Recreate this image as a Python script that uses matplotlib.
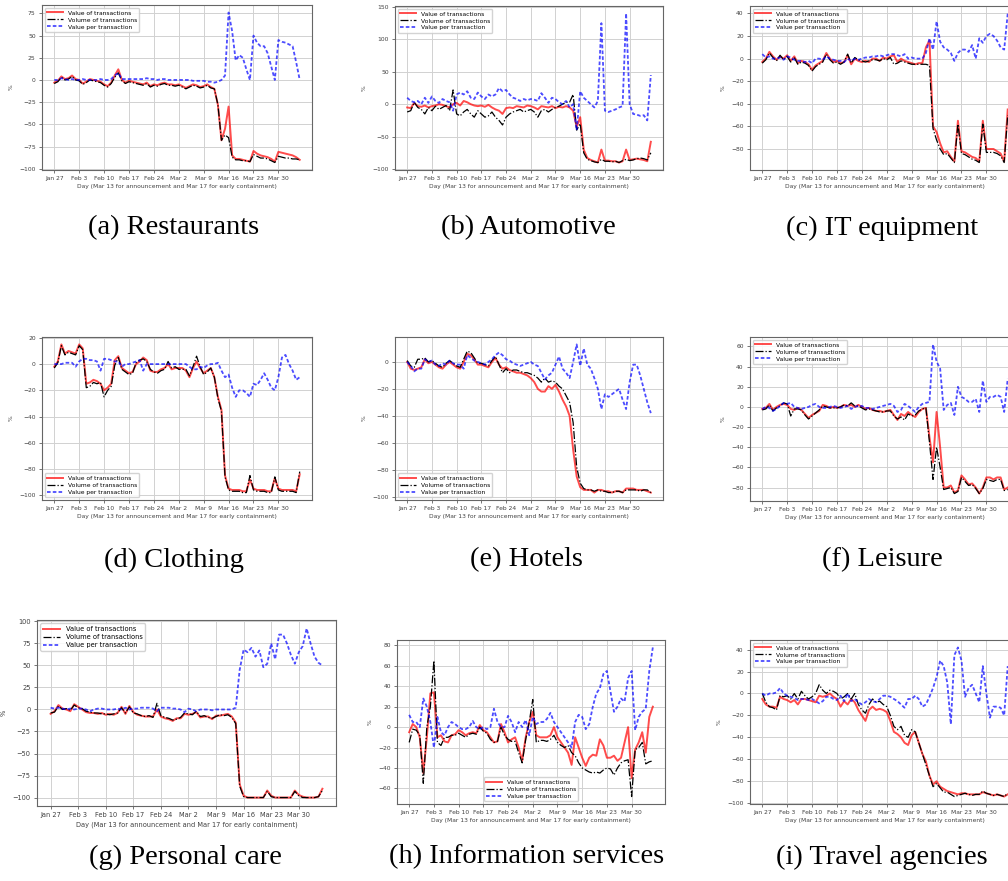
import matplotlib.pyplot as plt
import numpy as np

# daily values, Jan 27 .. Apr 5 (70 days)
tick_labels = ["Jan 27", "Feb 3", "Feb 10", "Feb 17", "Feb 24",
               "Mar 2", "Mar 9", "Mar 16", "Mar 23", "Mar 30"]
series_names = ["Value of transactions", "Volume of transactions", "Value per transaction"]

restaurants_value = [-3, -1, 4, 1, 2, 5, 1, 0, -4, -2,
                     1, 0, -1, -2, -5, -7, -3, 5, 12, 0,
                     -3, -1, -2, -3, -4, -5, -3, -7, -5, -6,
                     -4, -3, -5, -5, -6, -5, -7, -9, -7, -5,
                     -6, -8, -7, -5, -8, -10, -28, -68, -55, -30,
                     -85, -89, -89, -90, -91, -92, -80, -83, -85, -86,
                     -87, -89, -92, -81, -82, -83, -84, -85, -87, -90]
restaurants_volume = [-4, -2, 3, 0, 1, 4, 0, -1, -5, -3,
                      0, -1, -2, -3, -6, -8, -4, 3, 8, -1,
                      -4, -2, -3, -4, -5, -6, -4, -8, -6, -7,
                      -5, -4, -6, -6, -7, -6, -8, -10, -8, -6,
                      -7, -9, -8, -6, -9, -10, -28, -68, -62, -65,
                      -87, -90, -90, -91, -91, -92, -84, -86, -88, -88,
                      -89, -91, -93, -86, -87, -88, -88, -89, -89, -90]
restaurants_vpt = [0, 0, 2, 1, 0, 1, 0, 0, 1, 0,
                   0, 0, 0, 1, 0, 0, 1, 5, 8, 1,
                   1, 1, 1, 1, 1, 1, 2, 1, 1, 0,
                   1, 1, 0, 0, 0, 0, 0, 0, 0, -1,
                   -1, -1, -1, -2, -2, -3, -2, 0, 5, 76,
                   55, 22, 28, 25, 12, 0, 50, 42, 38, 38,
                   30, 15, 0, 45, 43, 42, 40, 38, 20, 0]

automotive_value = [-5, -6, 2, -3, -4, -2, -5, -3, -2, 0,
                    -1, -3, -5, 0, 2, -2, 5, 3, 0, -2,
                    -3, -2, -4, -1, -5, -8, -10, -15, -6, -5,
                    -6, -3, -4, -5, -2, -3, -5, -8, -3, -4,
                    -5, -3, -6, -4, -5, -3, -5, -10, -35, -20,
                    -70, -83, -86, -88, -90, -70, -87, -87, -88, -88,
                    -90, -88, -70, -86, -85, -84, -85, -86, -88, -58]
automotive_volume = [-12, -10, 3, -5, -8, -15, -5, -10, -3, -8,
                     -5, -2, -10, 22, -15, -18, -12, -8, -15, -20,
                     -10, -15, -20, -18, -12, -20, -25, -32, -20, -15,
                     -12, -10, -8, -12, -10, -8, -12, -20, -10, -8,
                     -12, -8, -5, -3, 0, 3, 3, 15, -40, -30,
                     -75, -85, -87, -89, -90, -85, -88, -88, -89, -88,
                     -90, -87, -85, -87, -86, -84, -83, -84, -86, -75]
automotive_vpt = [10, 5, 3, 5, 0, 10, 2, 12, 5, 2,
                  8, 5, 3, -10, 15, 18, 15, 20, 10, 8,
                  18, 12, 8, 15, 12, 15, 25, 20, 22, 15,
                  10, 8, 5, 8, 6, 8, 7, 5, 17, 10,
                  2, 10, 8, 3, 0, 5, -5, 0, -40, 20,
                  10, 5, 0, -5, 5, 125, -10, -12, -10, -8,
                  -5, -3, 140, 0, -15, -16, -18, -17, -25, 45]

it_value = [-3, 0, 6, 2, -1, 2, 0, 3, -2, 2,
            -4, -2, -3, -5, -10, -6, -4, -2, 5, 0,
            -3, -2, -4, -3, 3, -5, 0, -2, -3, -2,
            -3, 0, 0, -2, 1, 0, 2, 3, -3, 0,
            -2, -3, -4, -5, -4, -4, 10, 16, -60, -65,
            -75, -83, -82, -87, -91, -55, -82, -83, -85, -87,
            -88, -91, -55, -80, -80, -80, -82, -84, -91, -45]
it_volume = [-4, -1, 5, 1, -2, 3, -1, 2, -3, 1,
             -5, -3, -4, -6, -11, -7, -5, -3, 4, -1,
             -4, -3, -5, -3, 4, -4, 1, -1, -2, -3,
             -2, -1, -1, -2, 0, -1, 1, -5, -4, -2,
             -3, -4, -5, -5, -5, -5, -5, -6, -62, -72,
             -80, -85, -84, -88, -92, -58, -84, -85, -87, -89,
             -90, -92, -58, -83, -83, -83, -84, -86, -92, -50]
it_vpt = [4, 1, 2, 0, 0, 1, -1, 2, 1, -1,
          -2, -2, -3, -2, -4, 0, 0, -1, 2, 0,
          -1, -2, -2, -3, 0, -2, 0, -1, 0, 1,
          1, 2, 2, 3, 2, 3, 4, 4, 3, 2,
          4, 0, 1, 0, 0, 0, 5, 18, 8, 33,
          15, 10, 8, 5, -2, 5, 8, 8, 6, 12,
          0, 18, 14, 20, 22, 20, 16, 10, 8, 40]

clothing_value = [-2, 2, 15, 8, 10, 9, 8, 15, 12, -15,
                  -14, -12, -13, -15, -20, -18, -15, 3, 6, -3,
                  -5, -7, -6, 0, 2, 5, 3, -5, -6, -6,
                  -4, -3, 0, -4, -3, -3, -3, -5, -10, -3,
                  2, -3, -7, -5, -3, -10, -25, -35, -85, -95,
                  -96, -96, -96, -97, -97, -88, -95, -96, -96, -96,
                  -97, -97, -87, -95, -96, -96, -96, -96, -97, -84]
clothing_volume = [-3, 1, 14, 7, 9, 8, 7, 14, 11, -18,
                   -17, -14, -15, -14, -25, -20, -17, -1, 5, -4,
                   -6, -8, -7, 1, 3, 4, 2, -4, -6, -7,
                   -5, -4, 2, -3, -2, -4, -4, -4, -9, -2,
                   6, -2, -8, -6, -3, -10, -26, -36, -86, -96,
                   -97, -97, -97, -98, -98, -85, -96, -97, -97, -97,
                   -98, -98, -86, -96, -97, -97, -97, -97, -98, -82]
clothing_vpt = [0, 0, 0, 1, 1, 1, -2, 2, 4, 4,
                3, 3, 2, -5, 4, 4, 3, 2, 2, -2,
                0, 0, 1, 2, 3, -5, 0, 0, 0, 0,
                0, 0, 0, 0, 0, 0, 0, 0, -2, -4,
                -4, -2, -3, -1, 0, 0, 1, -5, -10, -8,
                -18, -25, -20, -20, -22, -25, -15, -16, -12, -7,
                -12, -18, -20, -10, 5, 7, 0, -5, -12, -10]

hotels_value = [0, -5, -6, -5, -4, 2, -1, 0, -2, -4,
                -5, -2, 0, -2, -4, -5, 0, 6, 5, 2,
                -2, -2, -3, -4, 0, 3, -2, -5, -4, -6,
                -7, -8, -8, -9, -10, -12, -15, -20, -22, -22,
                -18, -20, -17, -22, -28, -33, -40, -65, -85, -93,
                -95, -95, -95, -97, -95, -95, -96, -96, -97, -96,
                -96, -97, -94, -94, -94, -95, -95, -95, -96, -97]
hotels_volume = [1, -3, -4, 2, 2, 3, 0, 1, -1, -3,
                 -4, -1, 1, -1, -3, -4, 2, 8, 7, 3,
                 -1, -1, -2, -3, 1, 4, -2, -8, -5, -8,
                 -6, -6, -7, -8, -8, -9, -10, -12, -15, -12,
                 -15, -14, -15, -18, -20, -25, -30, -45, -78, -90,
                 -94, -95, -95, -96, -95, -96, -96, -97, -97, -96,
                 -96, -97, -95, -95, -95, -95, -96, -95, -95, -97]
hotels_vpt = [0, -3, -7, -5, -5, 2, 0, 1, -2, -3,
              -1, -2, 1, -1, -2, -2, -5, 5, 3, 1,
              0, -1, -2, 0, 2, 5, 7, 5, 2, 1,
              -1, -2, -3, -2, -1, 0, -2, -3, -8, -13,
              -10, -8, -2, 4, -5, -8, -12, 0, 13, -3,
              10, -2, -5, -12, -20, -35, -24, -26, -24, -22,
              -20, -28, -35, -15, -2, -2, -10, -20, -30, -38]

leisure_value = [-2, -1, 3, -3, 0, 2, 3, 2, -2, -3,
                 -1, -3, -7, -11, -8, -6, -4, 2, 1, -1,
                 0, -1, 0, 2, 1, 2, 0, 2, 0, -2,
                 -1, -3, -4, -4, -5, -4, -3, -8, -13, -7,
                 -9, -5, -8, -10, -5, -2, -1, -30, -55, -5,
                 -40, -80, -80, -78, -85, -83, -68, -72, -77, -76,
                 -80, -86, -80, -70, -70, -72, -70, -70, -82, -80]
leisure_volume = [-3, -2, 2, -4, -1, 1, 4, 3, -9, -2,
                  -2, -3, -8, -12, -9, -6, -3, 1, 0, -1,
                  -1, -1, 0, 2, 1, 4, 1, 1, -1, -3,
                  -2, -3, -4, -5, -5, -4, -4, -9, -12, -10,
                  -13, -7, -9, -8, -4, -2, -1, -35, -72, -40,
                  -60, -82, -81, -80, -86, -84, -70, -74, -78, -77,
                  -81, -86, -81, -72, -73, -74, -72, -72, -83, -82]
leisure_vpt = [-2, 0, -1, -4, -2, 1, 4, 3, 4, 0,
               -1, -2, -1, 0, 2, 3, 0, -1, -1, 0,
               1, 0, -1, 0, 1, -2, 0, 1, 1, -1,
               -1, -2, -1, 0, 1, 2, 3, 1, -5, -3,
               3, 1, -2, -5, 0, 3, 4, 5, 62, 45,
               38, -3, 2, 4, -8, 20, 10, 8, 5, 5,
               8, -5, 26, 5, 10, 10, 12, 10, -5, 28]

personal_value = [-5, -2, 5, 1, 0, -2, 6, 3, 0, -3,
                  -4, -4, -5, -4, -6, -5, -6, -4, 3, -5,
                  4, -3, -6, -7, -8, -8, -8, 0, -8, -10,
                  -11, -13, -10, -10, -5, -6, -5, -3, -9, -8,
                  -8, -11, -7, -7, -6, -5, -8, -15, -85, -98,
                  -100, -100, -100, -100, -100, -92, -98, -100, -100, -100,
                  -100, -100, -92, -97, -99, -100, -100, -100, -99, -90]
personal_volume = [-4, -3, 4, 0, 1, -1, 5, 2, 1, -2,
                   -3, -4, -4, -5, -5, -6, -5, -4, 2, -4,
                   3, -4, -5, -7, -8, -7, -9, 7, -7, -9,
                   -10, -12, -11, -9, -4, -5, -6, -2, -8, -7,
                   -9, -10, -8, -6, -7, -6, -9, -16, -87, -99,
                   -100, -100, -100, -100, -100, -93, -99, -100, -100, -100,
                   -100, -100, -93, -98, -100, -100, -100, -100, -99, -92]
personal_vpt = [2, 1, 2, 1, 0, 1, 0, 1, 1, 0,
                -2, 0, 1, 1, 0, 0, 0, 1, 0, 2,
                0, 1, 1, 2, 2, 2, 1, -2, 2, 2,
                2, 1, 1, 0, -3, 1, 0, -2, 0, 0,
                0, -1, 0, 0, 0, 0, 0, 2, 45, 68,
                65, 70, 60, 67, 48, 52, 75, 57, 85, 85,
                75, 62, 52, 65, 72, 92, 75, 60, 53, 50]

info_value = [-5, 3, 0, -10, -45, -10, 33, 34, -10, -8,
              -14, -15, -8, -7, -3, -5, -8, -6, -5, -6,
              2, -3, -5, -10, -15, -14, 3, -5, -15, -12,
              -10, -20, -33, -10, 5, 15, -8, -10, -10, -10,
              -8, 0, -10, -15, -20, -25, -37, -10, -20, -30,
              -38, -30, -27, -28, -12, -18, -30, -30, -28, -33,
              -30, -15, 0, -50, -22, -15, -5, -25, 10, 20]
info_volume = [-15, -2, -3, -8, -55, 0, 20, 65, -15, -18,
               -10, -10, -8, -8, -6, -8, -10, -7, -6, -7,
               0, -4, -6, -12, -15, -14, 0, -8, -12, -14,
               -14, -25, -35, -12, 5, 27, -15, -13, -13, -14,
               -12, -8, -15, -18, -20, -18, -25, -28, -35, -40,
               -42, -44, -45, -44, -45, -42, -40, -41, -47, -40,
               -35, -33, -32, -68, -22, -20, -15, -36, -34, -33]
info_vpt = [12, 5, 5, 0, 28, 20, 5, -20, 10, -5,
            -8, 0, 5, 3, 0, -2, -2, 0, 6, 0,
            -2, 0, -2, 0, 18, 5, 0, 0, 11, 5,
            -5, 5, 0, 7, -8, 10, 3, 5, 5, 8,
            14, 5, 0, -5, -10, -15, -20, 5, 12, 10,
            -2, 3, 20, 33, 38, 52, 55, 35, 15, 20,
            28, 25, 48, 55, -3, 10, 15, 18, 55, 78]

travel_value = [-5, -10, -12, -12, -13, -3, -5, -6, -8, -6,
                -10, -5, -5, -6, -7, -8, -2, -3, -2, 0,
                -3, -5, -12, -7, -10, -5, -8, -15, -20, -25,
                -15, -12, -15, -14, -15, -17, -25, -35, -37, -40,
                -45, -47, -38, -35, -45, -55, -62, -75, -83, -80,
                -85, -87, -89, -90, -91, -92, -91, -91, -92, -92,
                -92, -92, -90, -91, -92, -93, -92, -93, -94, -92]
travel_volume = [0, -8, -12, -13, -15, -2, -3, -2, -5, 0,
                 -5, 2, -2, -5, -3, 0, 8, 3, 0, 3,
                 2, 0, -5, -3, 0, -5, 0, -10, -15, -18,
                 -10, -5, -8, -7, -10, -12, -20, -30, -33, -30,
                 -38, -40, -33, -35, -45, -55, -65, -75, -85, -82,
                 -86, -90, -90, -92, -94, -93, -92, -91, -92, -93,
                 -92, -92, -89, -91, -92, -93, -92, -93, -94, -91]
travel_vpt = [0, -2, 0, 0, 1, 5, 0, -2, -3, -4,
              -6, -5, -5, -6, -5, -7, -9, -7, -3, -3,
              -5, -6, -2, -7, 0, -7, -5, -8, -10, -8,
              -5, -7, -8, -5, -2, -2, -3, -5, -7, -10,
              -13, -5, -5, -2, -5, -12, -10, -3, 5, 15,
              30, 25, 10, -28, 35, 42, 30, -3, 5, 8,
              0, -8, 25, 0, -22, -12, -12, -13, -20, 25]

panels = [
    ("(a) Restaurants", restaurants_value, restaurants_volume, restaurants_vpt, "upper left"),
    ("(b) Automotive", automotive_value, automotive_volume, automotive_vpt, "upper left"),
    ("(c) IT equipment", it_value, it_volume, it_vpt, "upper left"),
    ("(d) Clothing", clothing_value, clothing_volume, clothing_vpt, "lower left"),
    ("(e) Hotels", hotels_value, hotels_volume, hotels_vpt, "lower left"),
    ("(f) Leisure", leisure_value, leisure_volume, leisure_vpt, "upper left"),
    ("(g) Personal care", personal_value, personal_volume, personal_vpt, "upper left"),
    ("(h) Information services", info_value, info_volume, info_vpt, "lower center"),
    ("(i) Travel agencies", travel_value, travel_volume, travel_vpt, "upper left"),
]

# axes boxes in pixels: left, top, right, bottom
boxes = [(42, 5, 312, 170), (395, 6, 663, 170), (750, 6, 1020, 170),
         (42, 337, 312, 500), (395, 337, 663, 500), (750, 337, 1020, 501),
         (37, 620, 336, 806), (397, 640, 665, 804), (750, 640, 1020, 804)]
caption_pos = [(174, 228), (528, 228), (882, 228),
               (174, 560), (526, 560), (882, 560),
               (185, 857), (527, 857), (882, 857)]

W, H = 1008, 881
fig = plt.figure(figsize=(W / 100, H / 100), dpi=100)
x = np.arange(70)

for i, (name, val, vol, vpt, loc) in enumerate(panels):
    l, t, r, b = boxes[i]
    ax = fig.add_axes([l / W, 1 - b / H, (r - l) / W, (b - t) / H])
    fs = 4.8 if i == 6 else 4.3
    ax.plot(x, val, color="red", lw=1.4, alpha=0.7, label=series_names[0])
    ax.plot(x, vol, color="k", ls="-.", lw=0.9, label=series_names[1])
    ax.plot(x, vpt, color="blue", ls=(0, (2, 1.2)), lw=1.3, alpha=0.7, label=series_names[2])
    ax.set_xticks(np.arange(0, 70, 7))
    ax.set_xticklabels(tick_labels)
    ax.grid(True, color="0.82", lw=0.7)
    ax.set_axisbelow(True)
    ax.tick_params(labelsize=fs, length=2.5, width=0.5, pad=2, colors="0.25")
    ax.set_ylabel("%", fontsize=fs, color="0.25", labelpad=4)
    ax.set_xlabel("Day (Mar 13 for announcement and Mar 17 for early containment)",
                  fontsize=fs, color="0.25", labelpad=2)
    for s in ax.spines.values():
        s.set_color("0.4")
        s.set_linewidth(0.8)
    ax.legend(loc=loc, fontsize=fs, handlelength=2.6, borderpad=0.4,
              labelspacing=0.3, framealpha=0.85, edgecolor="0.8", fancybox=True)
    cx, cy = caption_pos[i]
    fig.text(cx / W, 1 - cy / H, name, ha="center", va="center",
             fontsize=20.5, family="Liberation Serif")

fig.savefig("out.png", dpi=100)
